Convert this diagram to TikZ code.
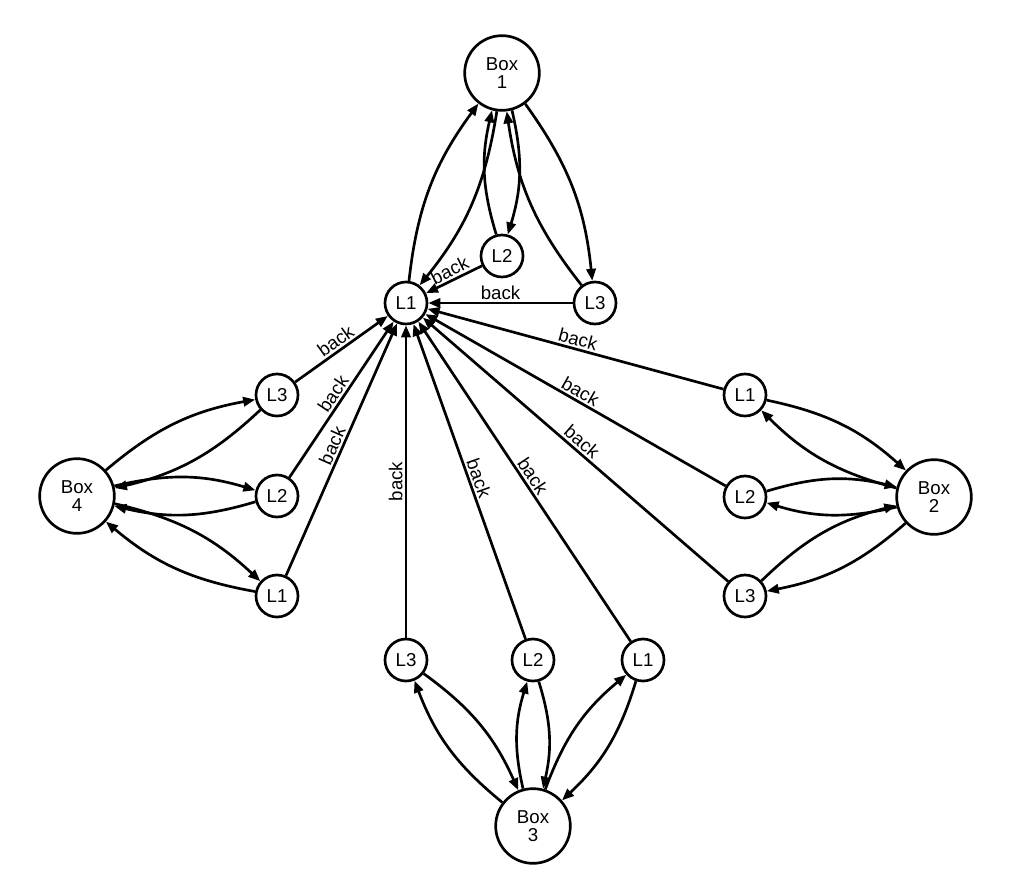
\documentclass[tikz,border=0pt]{standalone}
\usepackage{fontspec}
\setmainfont{Liberation Sans}
\usetikzlibrary{arrows.meta,positioning}
\newlength{\DiagramUnit}
\setlength{\DiagramUnit}{0.75pt}
\newcommand{\DiagramFont}{\fontsize{14pt}{14pt}\selectfont}

\begin{document}
\begin{tikzpicture}[x=\DiagramUnit,y=-\DiagramUnit]
    \tikzset{
        box node/.style={draw=black, circle, line width=2pt,
            minimum size=56pt, inner sep=0pt, align=center, font=\DiagramFont},
        leaf node/.style={draw=black, circle, line width=2pt,
            minimum size=31.5pt, inner sep=0pt, font=\DiagramFont},
        link flow/.style={-{Triangle[length=9pt,width=7pt]},
            line width=2pt, bend left=15},
        back flow/.style={-{Triangle[length=9pt,width=7pt]},
            line width=2pt},
        back label/.style={font=\DiagramFont, sloped, above, inner sep=1.5pt}
    }
    \useasboundingbox (0,0) rectangle (1010,893);
    % boxes
    \foreach \b/\x/\y in {1/502/73, 2/934/497, 3/533/826, 4/77/496} {
        \node[box node] (box\b) at (\x,\y) {Box\\\b};
    }
    % leaves of every box
    \foreach \b/\l/\x/\y in {1/1/406/303, 1/2/502/256, 1/3/595/303,
                             2/1/745/395, 2/2/745/497, 2/3/745/596,
                             3/1/643/660, 3/2/533/660, 3/3/406/660,
                             4/1/277/596, 4/2/277/496, 4/3/277/395} {
        \node[leaf node] (b\b-l\l) at (\x,\y) {L\l};
    }
    % both ways between a box and its leaves
    \foreach \b in {1,2,3,4} {
        \foreach \l in {1,2,3} {
            \draw[link flow] (box\b) to (b\b-l\l);
            \draw[link flow] (b\b-l\l) to (box\b);
        }
    }
    % everything goes back to the first leaf
    \foreach \src in {b1-l2, b1-l3, b2-l1, b2-l2, b2-l3, b3-l1, b3-l2, b3-l3,
                      b4-l1, b4-l2, b4-l3} {
        \draw[back flow] (\src) -- node[back label] {back} (b1-l1);
    }
\end{tikzpicture}
\end{document}
